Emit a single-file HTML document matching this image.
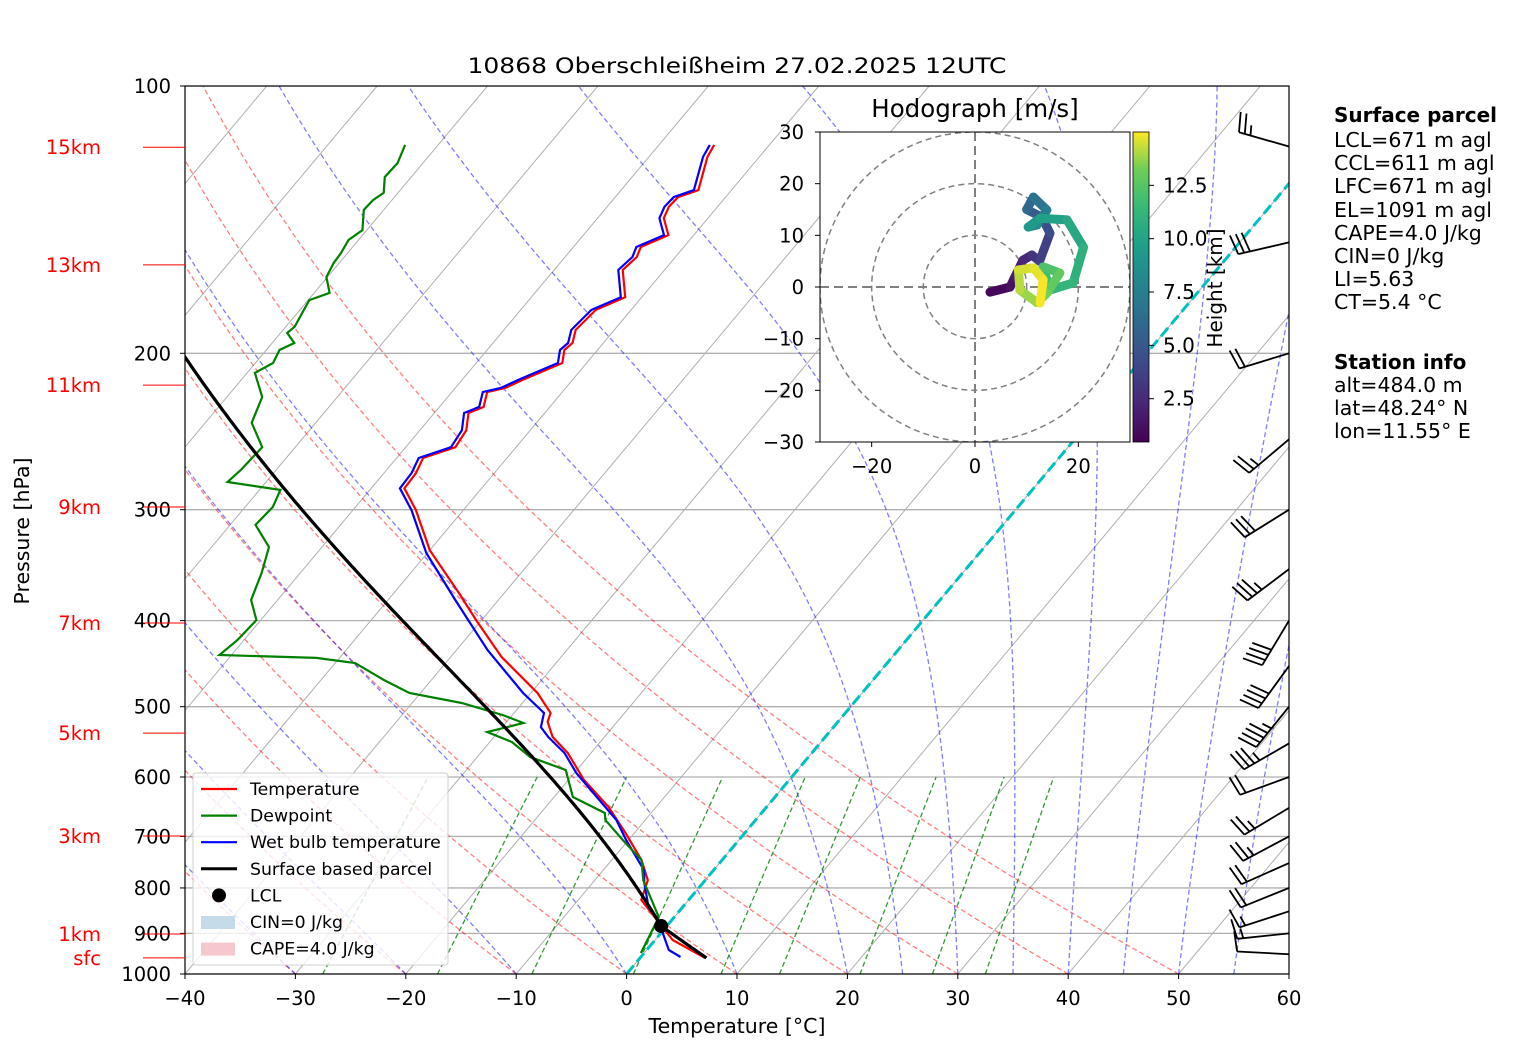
<!DOCTYPE html>
<html><head><meta charset="utf-8"><style>
html,body{margin:0;padding:0;background:#fff;}
svg{display:block;font-family:"DejaVu Sans","Liberation Sans",sans-serif;}
</style></head><body>
<svg id="chart" width="1517" height="1060" viewBox="0 0 1517 1060" xmlns="http://www.w3.org/2000/svg">
<defs>
<clipPath id="clipMain"><rect x="185" y="86" width="1104" height="888"/></clipPath>
<clipPath id="clipHodo"><rect x="820" y="132" width="310" height="310"/></clipPath>
<linearGradient id="viridis" x1="0" y1="1" x2="0" y2="0">
<stop offset="0" stop-color="#440154"/><stop offset="0.13" stop-color="#482878"/><stop offset="0.25" stop-color="#3e4989"/><stop offset="0.38" stop-color="#31688e"/><stop offset="0.5" stop-color="#26828e"/><stop offset="0.63" stop-color="#1f9e89"/><stop offset="0.75" stop-color="#35b779"/><stop offset="0.88" stop-color="#6ece58"/><stop offset="1" stop-color="#fde725"/>
</linearGradient>
</defs>
<text x="737" y="73" font-size="21" text-anchor="middle" textLength="539" lengthAdjust="spacingAndGlyphs">10868 Oberschleißheim 27.02.2025 12UTC</text>
<g id="bg" clip-path="url(#clipMain)"></g>
<g id="prof" clip-path="url(#clipMain)"></g>
<g id="axes"></g>
<g id="barbs"></g>
<g id="legend"></g>
<g id="hodo"></g>
<g id="info" font-size="20.5">
<text x="1334" y="122" font-weight="bold" font-size="20">Surface parcel</text>
<text x="1334" y="147">LCL=671 m agl</text>
<text x="1334" y="170">CCL=611 m agl</text>
<text x="1334" y="193">LFC=671 m agl</text>
<text x="1334" y="217">EL=1091 m agl</text>
<text x="1334" y="240">CAPE=4.0 J/kg</text>
<text x="1334" y="263">CIN=0 J/kg</text>
<text x="1334" y="286">LI=5.63</text>
<text x="1334" y="309">CT=5.4 °C</text>
<text x="1334" y="369" font-weight="bold" font-size="20">Station info</text>
<text x="1334" y="392">alt=484.0 m</text>
<text x="1334" y="415">lat=48.24° N</text>
<text x="1334" y="438">lon=11.55° E</text>
</g>
</svg>
<script>
// ---- data ----
const tempP=[116.5,120.2,131,133.4,136.8,140.9,147.2,151.8,155.8,161.1,172.9,178.7,188.2,194.7,198.3,205.1,214.3,218.8,221.1,229.8,233.5,244.1,255.1,262.4,272.9,283.8,300.3,333.2,372.4,399.4,439.5,482.6,508.2,520,540.8,563.8,604.6,648.6,693.8,744.2,784.2,825.1,876.5,915.7,959.3];
const tempT=[-55.0,-54.7,-53.0,-54.3,-54.4,-54.0,-52.3,-53.9,-53.5,-53.8,-51.5,-53.2,-53.5,-52.8,-53.0,-52.2,-54.5,-55.5,-56.8,-56.0,-56.9,-55.8,-55.5,-57.6,-57.1,-57.0,-54.3,-50.0,-44.1,-40.5,-35.4,-29.4,-26.7,-26.3,-24.7,-22.1,-18.6,-14.3,-10.8,-7.3,-5.2,-4.3,-0.9,1.6,5.9];
const wbP=[116.5,120.2,131,133.4,136.8,140.9,147.2,151.8,155.8,161.1,172.9,178.7,188.2,194.7,198.3,205.1,214.3,218.8,221.1,229.8,233.5,244.1,255.1,262.4,272.9,283.8,300.3,335.7,379.2,431.6,482.6,508.2,527.2,540.8,563.8,593.9,648.6,671,706.6,764,789.9,840.6,876.5,939.7,957];
const wbT=[-55.4,-55.1,-53.4,-54.7,-54.8,-54.4,-52.7,-54.3,-53.9,-54.2,-51.9,-53.6,-53.9,-53.2,-53.4,-52.6,-54.9,-55.9,-57.2,-56.4,-57.3,-56.2,-55.9,-58.0,-57.5,-57.4,-54.7,-50.1,-43.9,-37.2,-30.7,-27.3,-26.5,-25.1,-22.4,-19.8,-14.6,-12.6,-10.2,-6.3,-5.3,-3.1,-0.9,2.0,3.6];
const dewP=[116.5,122.1,126.6,131.9,134.4,137.9,145.3,149.1,154.2,158.3,164.1,171,174.2,186.7,189.7,194.7,198.3,205.1,210.4,224,239.5,255.1,270.6,279.2,285,297.9,312.1,330.5,353.5,379.2,399.4,420.6,437.3,440.6,446.4,466.6,482.6,495.3,510.9,521.6,533.9,548,569.7,589.2,631.9,658.7,671,706.6,744.2,784.2,862.9,947];
const dewT=[-83.0,-82.3,-82.4,-81.3,-81.7,-81.8,-80.4,-80.9,-80.6,-80.5,-80.1,-78.6,-79.9,-79.2,-79.4,-78.0,-78.8,-78.4,-79.3,-76.8,-75.8,-73.0,-73.2,-73.5,-68.1,-67.5,-67.7,-64.8,-63.5,-62.4,-60.4,-60.6,-61.1,-52.1,-48.2,-44.3,-41.0,-35.5,-30.9,-28.4,-31.0,-28.0,-25.2,-21.0,-18.3,-14.2,-13.6,-10.5,-7.3,-5.6,-1.4,-0.3];
const parcelStart=[959,6.0]; // p, T
const lclP=883;
const barbP=[117,150,200,250,300,350,400,450,500,550,600,650,700,750,800,850,900,950];
const barbDir=[286,257,253,230,238,233,211,216,219,240,250,239,242,246,248,252,264,273];
const barbSpd=[25,30,20,25,30,35,40,40,45,35,20,25,25,20,20,15,15,10];
const hodoU=[2.9,6.8,7.7,9.3,11,12.5,14.5,13,10,11.3,13.9,12,10.3,12.6,17.8,21,19,14.5,13.2,16.4,13.9,12,8.7,8.4,11.3,13.2,12.6];
const hodoV=[-1,0,1.9,5.2,6.2,5,10.4,13.5,15,17.4,14.9,12,11.6,13.3,13,7.7,0.8,-0.6,3.9,2.7,-1.2,-3,-0.6,3.3,3.7,1.4,-3.1];
const hodoH=[0.5,1.0,1.5,2.0,2.5,3.2,4.0,4.8,5.5,6.2,7.0,7.8,9.0,9.5,10.0,10.5,11.0,11.5,11.8,12.5,13.0,13.5,14.0,14.3,14.6,14.8,15.0];
const xTicks=[-40,-30,-20,-10,0,10,20,30,40,50,60];
const pTicks=[100,200,300,400,500,600,700,800,900,1000];
const kmLabels=["15km","13km","11km","9km","7km","5km","3km","1km","sfc"];
const kmP=[117.2,159,217.2,297.9,402.5,535.4,699.3,901.4,959];
const mixRatios=[0.0004,0.001,0.002,0.004,0.007,0.01,0.016,0.024,0.032];
const hodoTicks=[-30,-20,-10,0,10,20,30];
const cbTicks=[2.5,5.0,7.5,10.0,12.5];
const dryT0=[-40,-30,-20,-10,0,10,20,30,40,50];
const moistT0=[-40,-30,-20,-10,0,10,20,25,30,35,40,45,50,55,60];

// ---- scales ----
const NS="http://www.w3.org/2000/svg";
function yP(p){return 974-888*Math.log10(1000/p);}
function xT(T,p){return 185+(T+40)*11.04+0.838*(974-yP(p));}
function mk(tag,attrs,parent){const e=document.createElementNS(NS,tag);for(const k in attrs)e.setAttribute(k,attrs[k]);parent.appendChild(e);return e;}
function pathFrom(ps,ts){let d="";for(let i=0;i<ps.length;i++){d+=(i?"L":"M")+xT(ts[i],ps[i]).toFixed(1)+","+yP(ps[i]).toFixed(1);}return d;}
const bg=document.getElementById('bg'),prof=document.getElementById('prof'),axes=document.getElementById('axes');

for(const p of pTicks){const l=mk('line',{x1:185,x2:1289,y1:yP(p),y2:yP(p),stroke:'#b0b0b0','stroke-width':1.3},bg);

}
for(let T=-140;T<=60;T+=10){const l=mk('line',{x1:xT(T,1000),y1:yP(1000),x2:xT(T,100),y2:yP(100),stroke:'#b0b0b0','stroke-width':1},bg);

}
for(const t0 of dryT0){const ps=[],ts=[];for(let p=1000;p>=100;p-=10){ps.push(p);ts.push((t0+273.15)*Math.pow(p/1000,0.2857)-273.15);}
const e=mk('path',{d:pathFrom(ps,ts),fill:'none',stroke:'#ff0000','stroke-opacity':0.5,'stroke-width':1.3,'stroke-dasharray':'5,3'},bg);

}
const Rd=287,Cp=1005,Lv=2.5e6,eps=0.622;
function es(Tc){return 6.112*Math.exp(17.67*Tc/(Tc+243.5));}
function moist(p0,T0,p1){const ps=[p0],ts=[T0];let T=T0+273.15,p=p0;const dp=-2;while(p>p1){const Tc=T-273.15;const e=es(Tc);const rs=eps*e/(p-e);const dTdp=(Rd*T+Lv*rs)/(p*(Cp+Lv*Lv*rs*eps/(Rd*T*T)));T+=dTdp*dp;p+=dp;ps.push(p);ts.push(T-273.15);}return [ps,ts];}
for(const t0 of moistT0){const [ps,ts]=moist(1000,t0,100);
const e=mk('path',{d:pathFrom(ps,ts),fill:'none',stroke:'#0000ff','stroke-opacity':0.5,'stroke-width':1.3,'stroke-dasharray':'5,3'},bg);

}
function tdFromW(w,p){const e=w*p/(eps+w);const l=Math.log(e/6.112);return 243.5*l/(17.67-l);}
for(const w of mixRatios){const ps=[1000,600],ts=[tdFromW(w,1000),tdFromW(w,600)];
const e=mk('path',{d:pathFrom(ps,ts),fill:'none',stroke:'#008000','stroke-opacity':0.8,'stroke-width':1.3,'stroke-dasharray':'5,3'},bg);

}
{const e=mk('line',{x1:xT(0,1000),y1:yP(1000),x2:xT(0,100),y2:yP(100),stroke:'#00c0c0','stroke-width':3,'stroke-dasharray':'11,5'},bg);

}

{const e=mk('path',{d:pathFrom(tempP,tempT),fill:'none',stroke:'#ff0000','stroke-width':2.2},prof);

}
{const e=mk('path',{d:pathFrom(wbP,wbT),fill:'none',stroke:'#0000ff','stroke-width':2.2},prof);

}
{const e=mk('path',{d:pathFrom(dewP,dewT),fill:'none',stroke:'#008000','stroke-width':2.2},prof);

}
const parP=[],parT=[];
for(let p=parcelStart[0];p>=lclP;p-=2){parP.push(p);parT.push((parcelStart[1]+273.15)*Math.pow(p/parcelStart[0],0.2857)-273.15);}
const lclT=parT[parT.length-1];
{const [ps,ts]=moist(parP[parP.length-1],lclT,100);for(let i=1;i<ps.length;i++){parP.push(ps[i]);parT.push(ts[i]);}}
{const e=mk('path',{d:pathFrom(parP,parT),fill:'none',stroke:'#000','stroke-width':3.2},prof);

}
{const e=mk('circle',{cx:xT(lclT,lclP),cy:yP(lclP),r:7,fill:'#000'},prof);

}

mk('rect',{x:185,y:86,width:1104,height:888,fill:'none',stroke:'#000','stroke-width':1.2},axes);
for(const t of xTicks){const x=185+(t+40)*11.04;mk('line',{x1:x,x2:x,y1:974,y2:979,stroke:'#000'},axes);
const e=mk('text',{x:x,y:1005,'font-size':19.5,'text-anchor':'middle'},axes);e.textContent=(t<0?'\u2212'+(-t):t);

}
for(const p of pTicks){const y=yP(p);mk('line',{x1:180,x2:185,y1:y,y2:y,stroke:'#000'},axes);
const e=mk('text',{x:171,y:y+7,'font-size':19.5,'text-anchor':'end'},axes);e.textContent=p;

}
for(let i=0;i<kmLabels.length;i++){const y=yP(kmP[i]);mk('line',{x1:143,x2:185,y1:y,y2:y,stroke:'#ff0000','stroke-width':1},axes);
const e=mk('text',{x:101,y:y+7,'font-size':19.5,'text-anchor':'end',fill:'#ff0000'},axes);e.textContent=kmLabels[i];

}
{const e=mk('text',{x:737,y:1033,'font-size':20.5,'text-anchor':'middle'},axes);e.textContent='Temperature [°C]';

}
{const e=mk('text',{x:29,y:531,'font-size':20.5,'text-anchor':'middle',transform:'rotate(-90 29 531)'},axes);e.textContent='Pressure [hPa]';

}

const bG=document.getElementById('barbs');
for(let i=0;i<barbP.length;i++){const by=yP(barbP[i]),bx=1289;const a=barbDir[i]*Math.PI/180;
const sx=Math.sin(a),sy=-Math.cos(a);const L=52;const tx=bx+sx*L,ty=by+sy*L;
let d=`M${bx},${by}L${tx.toFixed(1)},${ty.toFixed(1)}`;
const ux=-sx,uy=-sy;const fx=uy,fy=-ux;let s=barbSpd[i];let k=0;
while(s>=10){const px=tx+ux*k*6,py=ty+uy*k*6;d+=`M${px.toFixed(1)},${py.toFixed(1)}l${(fx*20-ux*4).toFixed(1)},${(fy*20-uy*4).toFixed(1)}`;s-=10;k++;}
if(s>=5){if(k===0)k=1;const px=tx+ux*k*6,py=ty+uy*k*6;d+=`M${px.toFixed(1)},${py.toFixed(1)}l${(fx*10-ux*2).toFixed(1)},${(fy*10-uy*2).toFixed(1)}`;}
const e=mk('path',{d:d,fill:'none',stroke:'#000','stroke-width':1.8},bG);

}

const lg=document.getElementById('legend');
mk('rect',{x:193,y:773,width:255,height:192,rx:3,fill:'#fff','fill-opacity':0.8,stroke:'#d0d0d0'},lg);
const legItems=[['Temperature','#ff0000','line'],['Dewpoint','#008000','line'],['Wet bulb temperature','#0000ff','line'],['Surface based parcel','#000','line'],['LCL','#000','dot'],['CIN=0 J/kg','#c6dbea','patch'],['CAPE=4.0 J/kg','#f4c8cc','patch']];
legItems.forEach((it,i)=>{const y=789+i*26.6;
if(it[2]==='line')mk('line',{x1:201,x2:237,y1:y,y2:y,stroke:it[1],'stroke-width':it[0].startsWith('Surface')?3:2.2},lg);
else if(it[2]==='dot')mk('circle',{cx:219,cy:y,r:7,fill:'#000'},lg);
else mk('rect',{x:201,y:y-6,width:34,height:13,fill:it[1]},lg);
const e=mk('text',{x:250,y:y+6,'font-size':17.3},lg);e.textContent=it[0];

});

const hg=document.getElementById('hodo');
const hx=u=>975+u*5.1667, hy=v=>287-v*5.1667;
mk('rect',{x:820,y:132,width:310,height:310,fill:'#fff'},hg);
const hc=mk('g',{'clip-path':'url(#clipHodo)'},hg);
for(const r of [10,20,30]){mk('circle',{cx:975,cy:287,r:r*5.1667,fill:'none',stroke:'#808080','stroke-width':1.5,'stroke-dasharray':'6,4'},hc);}
mk('line',{x1:820,x2:1130,y1:287,y2:287,stroke:'#808080','stroke-width':2,'stroke-dasharray':'9,5'},hc);
mk('line',{x1:975,x2:975,y1:132,y2:442,stroke:'#808080','stroke-width':2,'stroke-dasharray':'9,5'},hc);
const vir=['#440154','#482878','#3e4989','#31688e','#26828e','#1f9e89','#35b779','#6ece58','#fde725'];
function hcol(h){let t=(h-0.47)/(15-0.47);t=Math.max(0,Math.min(1,t))*8;const i=Math.min(7,Math.floor(t));const f=t-i;
const c1=vir[i],c2=vir[i+1];const c=[1,3,5].map(j=>Math.round(parseInt(c1.substr(j,2),16)*(1-f)+parseInt(c2.substr(j,2),16)*f));return `rgb(${c})`;}
for(let i=0;i<hodoU.length-1;i++){const e=mk('line',{x1:hx(hodoU[i]),y1:hy(hodoV[i]),x2:hx(hodoU[i+1]),y2:hy(hodoV[i+1]),stroke:hcol((hodoH[i]+hodoH[i+1])/2),'stroke-width':9,'stroke-linecap':'round'},hc);

}
mk('rect',{x:820,y:132,width:310,height:310,fill:'none',stroke:'#000','stroke-width':1},hg);
for(const t of hodoTicks){mk('line',{x1:815,x2:820,y1:hy(t),y2:hy(t),stroke:'#000'},hg);
const e=mk('text',{x:804,y:hy(t)+7,'font-size':19.5,'text-anchor':'end'},hg);e.textContent=(t<0?'\u2212'+(-t):t);

}
for(const t of [-20,0,20]){mk('line',{x1:hx(t),x2:hx(t),y1:442,y2:447,stroke:'#000'},hg);
const e=mk('text',{x:hx(t),y:473,'font-size':19.5,'text-anchor':'middle'},hg);e.textContent=(t<0?'\u2212'+(-t):t);

}
{const e=mk('text',{x:975,y:117,'font-size':24.5,'text-anchor':'middle'},hg);e.textContent='Hodograph [m/s]';

}
{const e=mk('rect',{x:1133,y:132,width:16,height:310,fill:'url(#viridis)',stroke:'#000','stroke-width':0.8},hg);

}
const cbY=h=>442-(h-0.47)/(15-0.47)*310;
for(const t of cbTicks){mk('line',{x1:1149,x2:1154,y1:cbY(t),y2:cbY(t),stroke:'#000'},hg);
const e=mk('text',{x:1163,y:cbY(t)+7,'font-size':20,},hg);e.textContent=t.toFixed(1);

}
{const e=mk('text',{x:1222,y:288,'font-size':20,'text-anchor':'middle',transform:'rotate(-90 1222 288)'},hg);e.textContent='Height [km]';

}
</script>
</body></html>
